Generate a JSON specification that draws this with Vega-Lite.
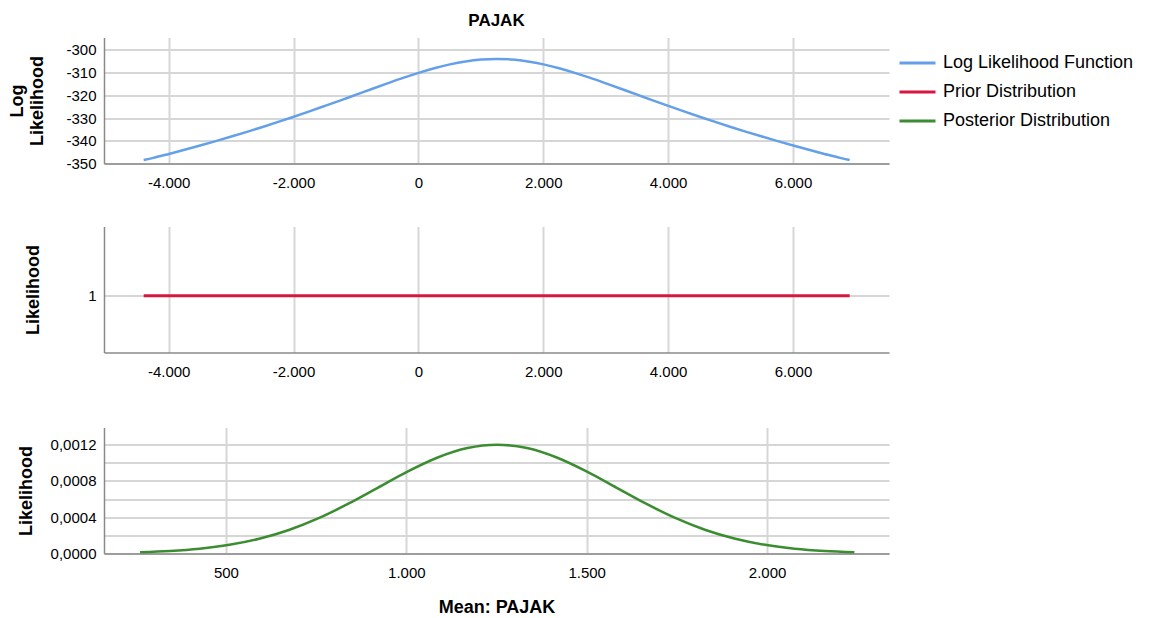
{
  "$schema": "https://vega.github.io/schema/vega-lite/v6.json",
  "background": "white",
  "padding": {"left": 8, "top": 11.5, "right": 5, "bottom": 5},
  "config": {
    "font": "Liberation Sans",
    "view": {"stroke": null},
    "axis": {
      "labelFont": "Liberation Sans", "labelFontSize": 15, "labelColor": "#000000",
      "titleFont": "Liberation Sans", "titleFontSize": 18, "titleFontWeight": "bold", "titleColor": "#000000",
      "ticks": false, "domainColor": "#8a8a8a", "domainWidth": 1.5,
      "gridColor": "#d6d6d6", "gridWidth": 2, "labelPadding": 8
    },
    "axisX": {"labelPadding": 12},
    "legend": {
      "orient": "right", "symbolType": "stroke", "symbolSize": 1296, "symbolStrokeWidth": 3,
      "labelFont": "Liberation Sans", "labelFontSize": 18, "labelColor": "#000000", "labelLimit": 400,
      "rowPadding": -5, "labelOffset": 6, "offset": 3, "padding": 6
    }
  },
  "datasets": {
    "loglik": [
      {"x": -4400, "y": -348.5, "series": "Log Likelihood Function"},
      {"x": -4246, "y": -347.54, "series": "Log Likelihood Function"},
      {"x": -3996, "y": -345.79, "series": "Log Likelihood Function"},
      {"x": -3746, "y": -343.98, "series": "Log Likelihood Function"},
      {"x": -3496, "y": -342.10, "series": "Log Likelihood Function"},
      {"x": -3246, "y": -340.17, "series": "Log Likelihood Function"},
      {"x": -2996, "y": -338.16, "series": "Log Likelihood Function"},
      {"x": -2746, "y": -336.08, "series": "Log Likelihood Function"},
      {"x": -2496, "y": -333.94, "series": "Log Likelihood Function"},
      {"x": -2246, "y": -331.72, "series": "Log Likelihood Function"},
      {"x": -1996, "y": -329.44, "series": "Log Likelihood Function"},
      {"x": -1746, "y": -327.09, "series": "Log Likelihood Function"},
      {"x": -1496, "y": -324.67, "series": "Log Likelihood Function"},
      {"x": -1246, "y": -322.22, "series": "Log Likelihood Function"},
      {"x": -996, "y": -319.73, "series": "Log Likelihood Function"},
      {"x": -746, "y": -317.23, "series": "Log Likelihood Function"},
      {"x": -496, "y": -314.77, "series": "Log Likelihood Function"},
      {"x": -246, "y": -312.38, "series": "Log Likelihood Function"},
      {"x": 4, "y": -310.14, "series": "Log Likelihood Function"},
      {"x": 254, "y": -308.12, "series": "Log Likelihood Function"},
      {"x": 504, "y": -306.41, "series": "Log Likelihood Function"},
      {"x": 754, "y": -305.11, "series": "Log Likelihood Function"},
      {"x": 1004, "y": -304.28, "series": "Log Likelihood Function"},
      {"x": 1254, "y": -304.00, "series": "Log Likelihood Function"},
      {"x": 1504, "y": -304.28, "series": "Log Likelihood Function"},
      {"x": 1754, "y": -305.11, "series": "Log Likelihood Function"},
      {"x": 2004, "y": -306.41, "series": "Log Likelihood Function"},
      {"x": 2254, "y": -308.12, "series": "Log Likelihood Function"},
      {"x": 2504, "y": -310.14, "series": "Log Likelihood Function"},
      {"x": 2754, "y": -312.38, "series": "Log Likelihood Function"},
      {"x": 3004, "y": -314.77, "series": "Log Likelihood Function"},
      {"x": 3254, "y": -317.23, "series": "Log Likelihood Function"},
      {"x": 3504, "y": -319.73, "series": "Log Likelihood Function"},
      {"x": 3754, "y": -322.22, "series": "Log Likelihood Function"},
      {"x": 4004, "y": -324.67, "series": "Log Likelihood Function"},
      {"x": 4254, "y": -327.09, "series": "Log Likelihood Function"},
      {"x": 4504, "y": -329.44, "series": "Log Likelihood Function"},
      {"x": 4754, "y": -331.72, "series": "Log Likelihood Function"},
      {"x": 5004, "y": -333.94, "series": "Log Likelihood Function"},
      {"x": 5254, "y": -336.08, "series": "Log Likelihood Function"},
      {"x": 5504, "y": -338.16, "series": "Log Likelihood Function"},
      {"x": 5754, "y": -340.17, "series": "Log Likelihood Function"},
      {"x": 6004, "y": -342.10, "series": "Log Likelihood Function"},
      {"x": 6254, "y": -343.98, "series": "Log Likelihood Function"},
      {"x": 6504, "y": -345.79, "series": "Log Likelihood Function"},
      {"x": 6754, "y": -347.54, "series": "Log Likelihood Function"},
      {"x": 6908, "y": -348.5, "series": "Log Likelihood Function"}
    ],
    "prior": [
      {"x": -4400, "y": 1, "series": "Prior Distribution"},
      {"x": 6908, "y": 1, "series": "Prior Distribution"}
    ],
    "posterior": [
      {"x": 262, "y": 0.0000133, "series": "Posterior Distribution"},
      {"x": 344.5, "y": 0.0000273, "series": "Posterior Distribution"},
      {"x": 427, "y": 0.0000527, "series": "Posterior Distribution"},
      {"x": 509.5, "y": 0.0000955, "series": "Posterior Distribution"},
      {"x": 592, "y": 0.0001624, "series": "Posterior Distribution"},
      {"x": 674.5, "y": 0.0002595, "series": "Posterior Distribution"},
      {"x": 757, "y": 0.0003896, "series": "Posterior Distribution"},
      {"x": 839.5, "y": 0.0005494, "series": "Posterior Distribution"},
      {"x": 922, "y": 0.0007278, "series": "Posterior Distribution"},
      {"x": 1004.5, "y": 0.0009058, "series": "Posterior Distribution"},
      {"x": 1087, "y": 0.0010590, "series": "Posterior Distribution"},
      {"x": 1169.5, "y": 0.0011631, "series": "Posterior Distribution"},
      {"x": 1252, "y": 0.0012, "series": "Posterior Distribution"},
      {"x": 1334.5, "y": 0.0011631, "series": "Posterior Distribution"},
      {"x": 1417, "y": 0.0010590, "series": "Posterior Distribution"},
      {"x": 1499.5, "y": 0.0009058, "series": "Posterior Distribution"},
      {"x": 1582, "y": 0.0007278, "series": "Posterior Distribution"},
      {"x": 1664.5, "y": 0.0005494, "series": "Posterior Distribution"},
      {"x": 1747, "y": 0.0003896, "series": "Posterior Distribution"},
      {"x": 1829.5, "y": 0.0002595, "series": "Posterior Distribution"},
      {"x": 1912, "y": 0.0001624, "series": "Posterior Distribution"},
      {"x": 1994.5, "y": 0.0000955, "series": "Posterior Distribution"},
      {"x": 2077, "y": 0.0000527, "series": "Posterior Distribution"},
      {"x": 2159.5, "y": 0.0000273, "series": "Posterior Distribution"},
      {"x": 2242, "y": 0.0000133, "series": "Posterior Distribution"}
    ]
  },
  "spacing": 36,
  "vconcat": [
    {
      "width": 785, "height": 126,
      "title": {"text": "PAJAK", "fontSize": 17, "fontWeight": "bold", "anchor": "middle", "offset": 8, "font": "Liberation Sans", "color": "#000000"},
      "data": {"name": "loglik"},
      "mark": {"type": "line", "strokeWidth": 2.5, "interpolate": "monotone"},
      "encoding": {
        "x": {"field": "x", "type": "quantitative",
          "scale": {"domain": [-5036, 7538], "nice": false, "zero": false},
          "axis": {"values": [-4000, -2000, 0, 2000, 4000, 6000], "title": null,
            "labelExpr": "(datum.value < 0 ? '-' : '') + replace(format(abs(datum.value), ','), ',', '.')"}},
        "y": {"field": "y", "type": "quantitative",
          "scale": {"domain": [-350, -294.6], "nice": false, "zero": false},
          "axis": {"values": [-350, -340, -330, -320, -310, -300], "title": ["Log", "Likelihood"],
            "titlePadding": 19, "titleLineHeight": 20,
            "labelExpr": "(datum.value < 0 ? '-' : '') + format(abs(datum.value), 'd')"}},
        "color": {"field": "series", "type": "nominal",
          "scale": {"domain": ["Log Likelihood Function", "Prior Distribution", "Posterior Distribution"],
            "range": ["#64a0ea", "#d8163f", "#3c8c32"]},
          "legend": {"title": null}}
      }
    },
    {
      "width": 785, "height": 126,
      "data": {"name": "prior"},
      "mark": {"type": "line", "strokeWidth": 3},
      "encoding": {
        "x": {"field": "x", "type": "quantitative",
          "scale": {"domain": [-5036, 7538], "nice": false, "zero": false},
          "axis": {"values": [-4000, -2000, 0, 2000, 4000, 6000], "title": null,
            "labelExpr": "(datum.value < 0 ? '-' : '') + replace(format(abs(datum.value), ','), ',', '.')"}},
        "y": {"field": "y", "type": "quantitative",
          "scale": {"domain": [0.5, 1.61], "nice": false, "zero": false},
          "axis": {"values": [1], "title": "Likelihood", "titlePadding": 45, "labelExpr": "'1'"}},
        "color": {"field": "series", "type": "nominal",
          "scale": {"domain": ["Log Likelihood Function", "Prior Distribution", "Posterior Distribution"],
            "range": ["#64a0ea", "#d8163f", "#3c8c32"]},
          "legend": {"title": null}}
      }
    },
    {
      "width": 785, "height": 126,
      "title": {"text": " ", "fontSize": 11.5, "offset": 0},
      "data": {"name": "posterior"},
      "mark": {"type": "line", "strokeWidth": 2.5, "interpolate": "monotone"},
      "encoding": {
        "x": {"field": "x", "type": "quantitative",
          "scale": {"domain": [162, 2338], "nice": false, "zero": false},
          "axis": {"values": [500, 1000, 1500, 2000], "title": "Mean: PAJAK", "titlePadding": 17.5,
            "labelExpr": "replace(format(datum.value, ','), ',', '.')"}},
        "y": {"field": "y", "type": "quantitative",
          "scale": {"domain": [0, 0.00139], "nice": false, "zero": false},
          "axis": {"values": [0, 0.0002, 0.0004, 0.0006, 0.0008, 0.001, 0.0012], "title": "Likelihood", "titlePadding": 15,
            "labelExpr": "round(datum.value * 10000) % 4 == 0 ? replace(format(datum.value, '.4f'), '.', ',') : ''"}},
        "color": {"field": "series", "type": "nominal",
          "scale": {"domain": ["Log Likelihood Function", "Prior Distribution", "Posterior Distribution"],
            "range": ["#64a0ea", "#d8163f", "#3c8c32"]},
          "legend": {"title": null}}
      }
    }
  ]
}
